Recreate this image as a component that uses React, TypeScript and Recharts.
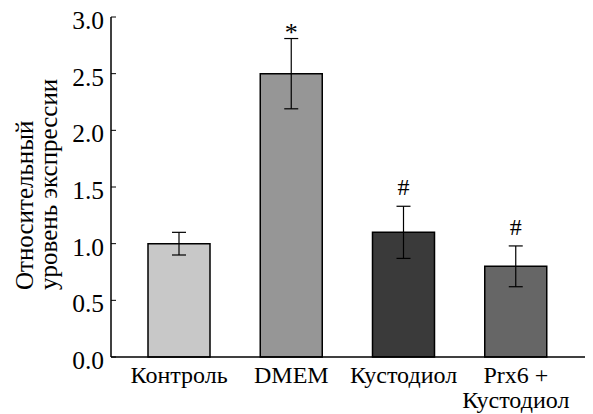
import { Bar, BarChart, Cell, ErrorBar, LabelList, XAxis, YAxis } from "recharts";

const categories = ["Контроль", "DMEM", "Кустодиол", "Prx6 +\nКустодиол"];
const means = [1.0, 2.5, 1.1, 0.8];
const errors = [0.1, 0.31, 0.23, 0.18];
const marks = ["", "*", "#", "#"];
const yTicks = [0, 0.5, 1.0, 1.5, 2.0, 2.5, 3.0];
const colors = ["#c8c8c8", "#969696", "#3a3a3a", "#666666"];

const data = categories.map((name, i) => ({
  name,
  value: means[i],
  err: errors[i],
  mark: marks[i],
}));

const txt = { fontFamily: "Liberation Serif", fontSize: 24, fill: "#000" };

const YTick = ({ x, y, payload }: any) => (
  <g>
    <line x1={x} x2={x + 5} y1={y} y2={y} stroke="#000" strokeWidth={1} />
    <text x={x - 7} y={y + 3} dy="0.35em" textAnchor="end" style={{ ...txt, fontSize: 25.5 }}>
      {Number(payload.value).toFixed(1)}
    </text>
  </g>
);

const XTick = ({ x, y, payload }: any) => {
  const lines = String(payload.value).split("\n");
  return (
    <text x={x} y={y} textAnchor="middle" style={txt}>
      {lines.map((l, i) => (
        <tspan key={i} x={x} dy={i === 0 ? 26 : 25}>
          {l}
        </tspan>
      ))}
    </text>
  );
};

const MarkLabel = (props: any) => {
  const { x, y, width, height, value, index } = props;
  if (!value) return null;
  const errPx = (errors[index] * Number(height)) / means[index];
  const top = Number(y) - errPx;
  const isStar = value === "*";
  return (
    <text
      x={Number(x) + Number(width) / 2}
      y={isStar ? top + 2 : top - 11}
      textAnchor="middle"
      style={{ ...txt, fontSize: isStar ? 26 : 24 }}
    >
      {value}
    </text>
  );
};

const YLabel = () => (
  <g>
    <text x={25} y={282} transform="rotate(-90, 25, 282)" style={{ ...txt, fontSize: 25 }}>
      Относительный
    </text>
    <text x={49} y={282} transform="rotate(-90, 49, 282)" style={{ ...txt, fontSize: 25 }}>
      уровень экспрессии
    </text>
  </g>
);

export default function App() {
  return (
    <BarChart
      width={585}
      height={406}
      data={data}
      margin={{ top: 9, right: 8, bottom: 0, left: 0 }}
      barSize={62}
    >
      <XAxis
        dataKey="name"
        height={57}
        tickLine={false}
        tickSize={0}
        tickMargin={0}
        axisLine={{ stroke: "#000", strokeWidth: 1.5 }}
        tick={<XTick />}
        interval={0}
        padding={{ left: 12, right: 13 }}
      />
      <YAxis
        width={103}
        domain={[0, 3]}
        ticks={yTicks}
        tickSize={0}
        tickMargin={0}
        tickLine={false}
        axisLine={{ stroke: "#000", strokeWidth: 1.5 }}
        tick={<YTick />}
        label={{ content: <YLabel /> }}
      />
      <Bar dataKey="value" stroke="#000" strokeWidth={1.5} isAnimationActive={false}>
        {data.map((_, i) => (
          <Cell key={i} fill={colors[i]} />
        ))}
        <ErrorBar dataKey="err" width={7} stroke="#000" strokeWidth={1.2} />
        <LabelList dataKey="mark" content={<MarkLabel />} />
      </Bar>
    </BarChart>
  );
}
